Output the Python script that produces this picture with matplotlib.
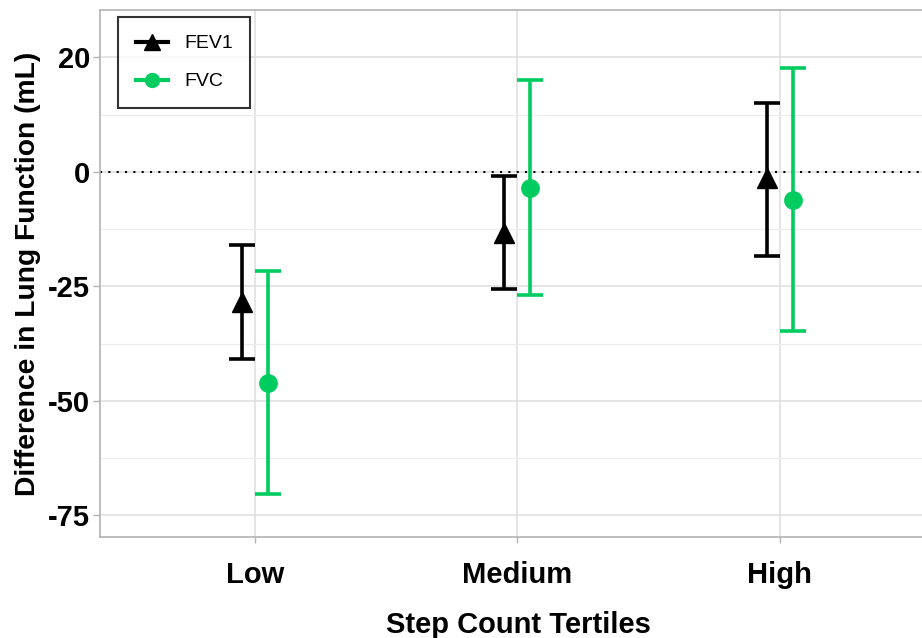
import matplotlib.pyplot as plt
import numpy as np

plt.rcParams['font.family'] = ['Liberation Sans', 'DejaVu Sans']

tertiles = ['Low', 'Medium', 'High']
fev1_est = [-28.4, -13.4, -1.4]
fev1_low = [-40.9, -25.5, -18.3]
fev1_high = [-16.0, -1.0, 15.1]
fvc_est = [-46.2, -3.6, -6.2]
fvc_low = [-70.4, -27.0, -34.7]
fvc_high = [-21.7, 20.0, 22.6]

y_ticks = [-75, -50, -25, 0, 25]
y_tick_labels = ['-75', '-50', '-25', '0', '20']

fig = plt.figure(figsize=(9.22, 6.38), dpi=100)
# panel runs a little past the right edge of the picture, as in the original
ax = fig.add_axes([0.1085, 0.158, 0.908, 0.826])

x = np.arange(1, len(tertiles) + 1)
dodge = 0.05
green = '#00cc5f'

def draw(xpos, est, lo, hi, color, marker, ms, label):
    est = np.array(est)
    yerr = [est - np.array(lo), np.array(hi) - est]
    ax.errorbar(xpos, est, yerr=yerr, fmt='none', ecolor=color, elinewidth=2.6,
                capsize=9.5, capthick=2.6, zorder=3)
    ax.plot(xpos, est, linestyle='none', marker=marker, color=color,
            markersize=ms, zorder=4)
    ax.plot([], [], color=color, marker=marker, markersize=ms * 0.8,
            linewidth=3, label=label)

draw(x - dodge, fev1_est, fev1_low, fev1_high, 'black', '^', 14, 'FEV1')
draw(x + dodge, fvc_est, fvc_low, fvc_high, green, 'o', 12.5, 'FVC')

ax.axhline(0, color='black', linestyle=(0, (1, 3)), linewidth=1.5, zorder=2)

ax.set_xlim(0.41, 3.6)
ax.set_ylim(-79.8, 35.3)
ax.set_xticks(x)
ax.set_xticklabels(tertiles, fontsize=21, fontweight='bold')
ax.set_yticks(y_ticks)
ax.set_yticklabels(y_tick_labels, fontsize=21, fontweight='bold')
ax.set_yticks([-62.5, -37.5, -12.5, 12.5], minor=True)
ax.tick_params(axis='both', which='major', length=5, color='#b3b3b3', width=1, pad=2)
ax.tick_params(axis='x', length=4, pad=13)
ax.tick_params(axis='y', which='minor', length=0)

ax.grid(True, which='major', color='#dedede', linewidth=1.1, zorder=0)
ax.grid(True, which='minor', axis='y', color='#ececec', linewidth=0.8, zorder=0)
ax.set_axisbelow(True)
for s in ax.spines.values():
    s.set_color('#b3b3b3')
    s.set_linewidth(1.2)

ax.set_xlabel('Step Count Tertiles', fontsize=21, fontweight='bold', labelpad=16)
ax.set_ylabel('Difference in Lung Function (mL)', fontsize=20.3, fontweight='bold', labelpad=5)

leg = ax.legend(loc='upper left', fontsize=14, frameon=True, fancybox=False,
                edgecolor='black', borderpad=0.9, labelspacing=1.05,
                handlelength=1.65, handletextpad=0.85, borderaxespad=0,
                bbox_to_anchor=(0.0215, 0.9867))
leg.get_frame().set_linewidth(1.5)

fig.savefig('out.png', dpi=100)
